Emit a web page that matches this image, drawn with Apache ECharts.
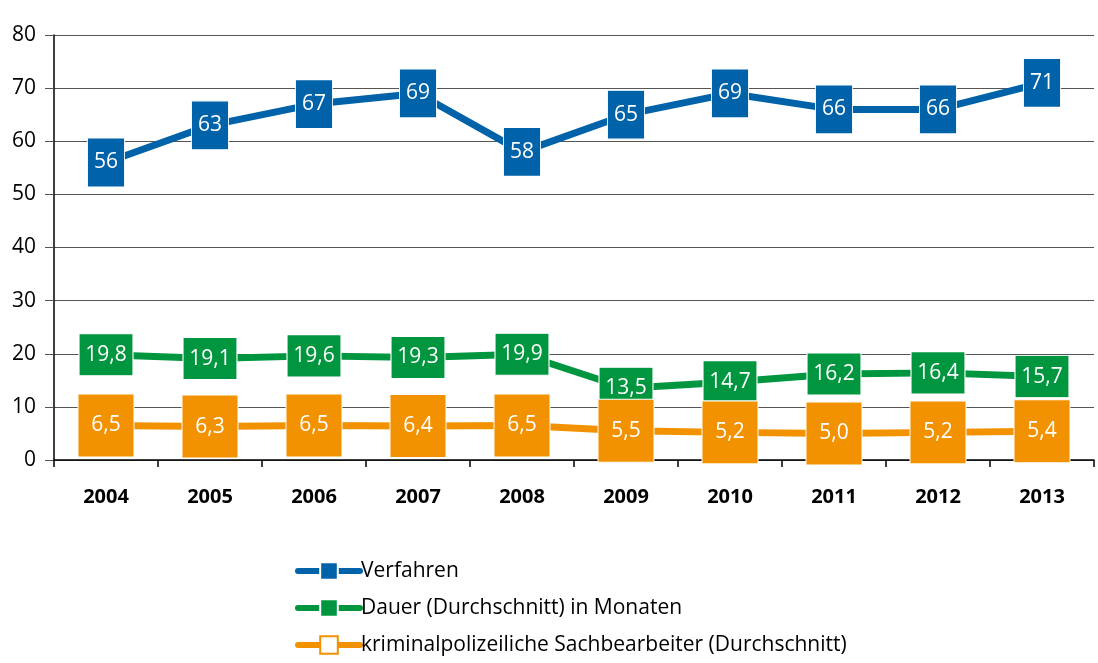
<!DOCTYPE html>
<html>
<head>
<meta charset="utf-8">
<script src="https://cdn.jsdelivr.net/npm/echarts@6/dist/echarts.min.js"></script>
<style>
  html, body { margin: 0; padding: 0; background: #fff; }
  #main { width: 1098px; height: 663px; }
</style>
</head>
<body>
<div id="main"></div>
<script>
var years = ["2004", "2005", "2006", "2007", "2008", "2009", "2010", "2011", "2012", "2013"];
var verfahren = [56, 63, 67, 69, 58, 65, 69, 66, 66, 71];
var dauer = [19.8, 19.1, 19.6, 19.3, 19.9, 13.5, 14.7, 16.2, 16.4, 15.7];
var sachbearbeiter = [6.5, 6.3, 6.5, 6.4, 6.5, 5.5, 5.2, 5.0, 5.2, 5.4];

var fontFamily = "'Open Sans', Lato, sans-serif";
var blue = "#0062a8";
var green = "#00963f";
var orange = "#f39200";

var chart = echarts.init(document.getElementById("main"));

function makeSeries(name, data, color, size, decimals) {
  return {
    name: name,
    type: "line",
    data: data,
    symbol: "rect",
    symbolSize: size,
    showAllSymbol: true,
    lineStyle: { color: color, width: 7 },
    itemStyle: { color: color, borderColor: "#fff", borderWidth: 1 },
    label: {
      show: true,
      position: "inside",
      color: "#fff",
      fontSize: 21,
      fontFamily: fontFamily,
      formatter: function (p) {
        return p.value.toFixed(decimals).replace(".", ",");
      }
    },
    animation: false
  };
}

var option = {
  grid: { left: 54, right: 4, top: 35, bottom: 203 },
  legend: {
    orient: "vertical",
    left: 295,
    top: 560,
    padding: 0,
    itemGap: 15,
    itemWidth: 62,
    itemHeight: 22,
    lineStyle: { width: 6, type: "solid", cap: "round" },
    textStyle: { fontSize: 21, lineHeight: 22, fontFamily: fontFamily, color: "#000", padding: [0, 0, 0, -4] },
    data: [
      { name: "Verfahren" },
      { name: "Dauer (Durchschnitt) in Monaten" },
      { name: "kriminalpolizeiliche Sachbearbeiter (Durchschnitt)", itemStyle: { color: "#fff", borderColor: orange, borderWidth: 2 } }
    ]
  },
  xAxis: {
    type: "category",
    data: years,
    boundaryGap: true,
    axisLine: { lineStyle: { color: "#000", width: 1.5 } },
    axisTick: { show: true, length: 7, lineStyle: { color: "#000", width: 1.5 } },
    axisLabel: { fontSize: 20, fontWeight: "bold", color: "#000", fontFamily: fontFamily, margin: 27 }
  },
  yAxis: {
    type: "value",
    min: 0,
    max: 80,
    interval: 10,
    axisLine: { show: true, lineStyle: { color: "#000", width: 1.5 } },
    axisTick: { show: true, length: 9, lineStyle: { color: "#555" } },
    axisLabel: { fontSize: 21, color: "#000", fontFamily: fontFamily, margin: 18 },
    splitLine: { lineStyle: { color: "#555", width: 1 } }
  },
  series: [
    makeSeries("Verfahren", verfahren, blue, [37, 49], 0),
    makeSeries("Dauer (Durchschnitt) in Monaten", dauer, green, [54, 42], 1),
    makeSeries("kriminalpolizeiliche Sachbearbeiter (Durchschnitt)", sachbearbeiter, orange, [56, 63], 1)
  ]
};

chart.setOption(option);
</script>
</body>
</html>
